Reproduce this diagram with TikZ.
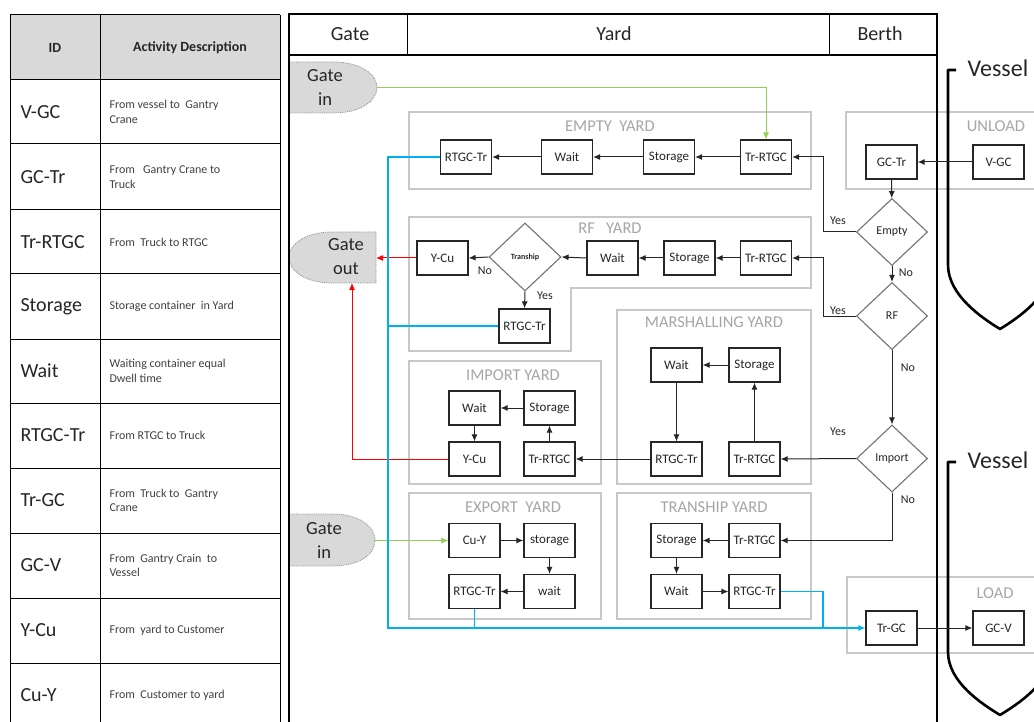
\documentclass[tikz,border=0pt]{standalone}
\usepackage{fontspec}
\setmainfont{Carlito}
\usetikzlibrary{arrows.meta,shapes.geometric}
\definecolor{gatein}{HTML}{92D050}
\definecolor{gateout}{HTML}{FF0000}
\definecolor{truck}{HTML}{00B0F0}
\definecolor{zone}{HTML}{C8C8C8}
\definecolor{zonetxt}{HTML}{A6A6A6}
\definecolor{gatefill}{HTML}{D9D9D9}
\definecolor{ink}{HTML}{262626}

\begin{document}
\begin{tikzpicture}[x=1pt,y=-1pt,
  act/.style={draw=ink, line width=1.2pt, fill=white, minimum width=51pt,
    minimum height=34pt, inner sep=0pt, font=\fontsize{13}{15}\selectfont, text=ink},
  decide/.style={diamond, draw=black!55, line width=1.1pt, fill=white,
    minimum width=71pt, minimum height=67pt, inner sep=0pt,
    font=\fontsize{12}{14}\selectfont, text=ink},
  zonebox/.style={draw=zone, line width=1.3pt},
  zonetitle/.style={text=zonetxt, font=\fontsize{16.5}{18}\selectfont},
  gateshape/.style={fill=gatefill, draw=black!45, densely dotted, line width=0.8pt},
  gatetext/.style={align=center, font=\fontsize{18.5}{24}\selectfont, text=ink},
  flow/.style={line width=1pt, draw=ink, -{Latex[length=7pt,width=6pt]}},
  truckline/.style={line width=1.2pt, draw=truck},
  lbl/.style={font=\fontsize{12}{14}\selectfont, text=ink},
  headtext/.style={font=\fontsize{20}{24}\selectfont, text=ink},
  idtext/.style={anchor=west, font=\fontsize{20}{24}\selectfont, text=ink},
  desctext/.style={anchor=west, align=left, font=\fontsize{12}{14.5}\selectfont, text=black!75},
  hull/.style={line width=2.6pt, line join=round}
]
\clip (0,0) rectangle (1034,722);
\fill[white] (0,0) rectangle (1034,722);

% ---------- activity table ----------
\fill[gatefill] (10,15) rectangle (280,80);
\foreach \yy in {15,80,144,210,274,339,403,468,533,598,663}
  \draw[line width=1pt] (10,\yy) -- (280,\yy);
\foreach \xx in {10,100,280}
  \draw[line width=1pt] (\xx,15) -- (\xx,730);
\node[font=\bfseries\fontsize{14}{16}\selectfont, text=ink] (thid) at (55,48) {ID};
\node[font=\bfseries\fontsize{14}{16}\selectfont, text=ink] (thdesc) at (190,48) {Activity Description};
\foreach \yy/\code/\desc [count=\k] in {
  112/V-GC/{From vessel to\ \ Gantry\\Crane},
  177/GC-Tr/{From\ \ \ Gantry Crane to\\Truck},
  242/Tr-RTGC/{From\ \ Truck to RTGC},
  306.5/Storage/{Storage container\ \ in Yard},
  371/Wait/{Waiting container equal\\Dwell time},
  435.5/RTGC-Tr/{From RTGC to Truck},
  500.5/Tr-GC/{From\ \ Truck to\ \ Gantry\\Crane},
  565.5/GC-V/{From\ \ Gantry Crain\ \ to\\Vessel},
  630.5/Y-Cu/{From\ \ yard to Customer},
  695/Cu-Y/{From\ \ Customer to yard}}
{
  \node[idtext] (id\k) at (17,\yy) {\code};
  \node[desctext] (desc\k) at (106,\yy) {\desc};
}

% ---------- zones ----------
\draw[zonebox] (409,112) rectangle (811,189);
\node[zonetitle] (tEmpty) at (610,126) {EMPTY\ \ YARD};
\draw[zonebox] (409,217) -- (811,217) -- (811,288) -- (571,288) -- (571,351) -- (409,351) -- cycle;
\node[zonetitle] (tRF) at (610,228) {RF\ \ \ YARD};
\draw[zonebox] (617,310) rectangle (811,484);
\node[zonetitle] (tMar) at (714,322) {MARSHALLING YARD};
\draw[zonebox] (409,361) rectangle (601,484);
\node[zonetitle] (tImp) at (513,375) {IMPORT YARD};
\draw[zonebox] (409,493) rectangle (601,619);
\node[zonetitle] (tExp) at (513,507) {EXPORT\ \ YARD};
\draw[zonebox] (617,493) rectangle (811,619);
\node[zonetitle] (tTra) at (714,507) {TRANSHIP YARD};
\draw[zonebox] (846,112) rectangle (1045,189);
\node[zonetitle] (tUnl) at (996,126) {UNLOAD};
\draw[zonebox] (847,577) rectangle (1045,653);
\node[zonetitle] (tLoad) at (995,593) {LOAD};

% ---------- gates ----------
\draw[gateshape] (289,62) -- (333,62) .. controls (362,62) and (377,75) .. (377,87.5)
  .. controls (377,100) and (362,113) .. (333,113) -- (289,113) -- cycle;
\node[gatetext] (gin1) at (325,87) {Gate\\in};
\coordinate (gin1tip) at (377,87.5);
\draw[gateshape] (376,232) -- (332,232) .. controls (304,232) and (289,245) .. (289,257.5)
  .. controls (289,270) and (304,283) .. (332,283) -- (376,283) -- cycle;
\node[gatetext] (gout) at (346,257) {Gate\\out};
\coordinate (goutE) at (376,258);
\coordinate (goutS) at (352,283);
\draw[gateshape] (289,514) -- (332,514) .. controls (360,514) and (375,527) .. (375,540.5)
  .. controls (375,554) and (360,566) .. (332,566) -- (289,566) -- cycle;
\node[gatetext] (gin2) at (324,540) {Gate\\in};
\coordinate (gin2tip) at (375,540.5);

% ---------- frame ----------
\draw[line width=2.6pt] (289,730) -- (289,14) -- (937,14) -- (937,730);
\draw[line width=2.6pt] (289,55) -- (937,55);
\draw[line width=1pt] (407,14) -- (407,55);
\draw[line width=1pt] (829,14) -- (829,55);
\node[headtext] (hGate) at (350,34) {Gate};
\node[headtext] (hYard) at (614,34) {Yard};
\node[headtext] (hBerth) at (880,34) {Berth};

% ---------- vessels ----------
\draw[hull] (956,70) -- (948,70) -- (948,265) .. controls (948,295) and (982,318) .. (1000,329)
  .. controls (1018,318) and (1052,295) .. (1052,265);
\node[font=\fontsize{24}{28}\selectfont, text=ink] (ves1) at (998,68) {Vessel};
\draw[hull] (956,462) -- (948,462) -- (948,652) .. controls (948,682) and (982,704) .. (1000,715)
  .. controls (1018,704) and (1052,682) .. (1052,652);
\node[font=\fontsize{24}{28}\selectfont, text=ink] (ves2) at (998,460) {Vessel};

% ---------- activities ----------
% unload / load
\node[act] (ugctr) at (891.5,162) {GC-Tr};
\node[act] (uvgc) at (998.5,162) {V-GC};
\node[act] (ltrgc) at (891.5,628) {Tr-GC};
\node[act] (lgcv) at (998.5,628) {GC-V};
% decisions
\node[decide] (dEmpty) at (892,232) {Empty};
\node[decide] (dRF) at (892,316) {RF};
\node[decide] (dImp) at (892,458.5) {Import};
% empty yard
\node[act] (eRt) at (466,157) {RTGC-Tr};
\node[act] (eWait) at (567,157) {Wait};
\node[act] (eSto) at (669,157) {Storage};
\node[act] (eTr) at (766,157) {Tr-RTGC};
% RF yard
\node[act] (rYcu) at (442.5,258) {Y-Cu};
\node[decide, minimum width=72pt, minimum height=68pt, font=\bfseries\fontsize{8}{9}\selectfont] (rTra) at (525,257) {Tranship};
\node[act] (rWait) at (612.5,258) {Wait};
\node[act] (rSto) at (689.5,258) {Storage};
\node[act] (rTr) at (766,258) {Tr-RTGC};
\node[act] (rRt) at (524.5,326) {RTGC-Tr};
% marshalling yard
\node[act] (mWait) at (676.5,365) {Wait};
\node[act] (mSto) at (754.5,365) {Storage};
\node[act] (mRt) at (676.5,459) {RTGC-Tr};
\node[act] (mTr) at (754.5,459) {Tr-RTGC};
% import yard
\node[act] (iWait) at (474.5,408) {Wait};
\node[act] (iSto) at (549.5,408) {Storage};
\node[act] (iYcu) at (474.5,459) {Y-Cu};
\node[act] (iTr) at (549.5,459) {Tr-RTGC};
% export yard
\node[act] (xCuy) at (474.5,540.5) {Cu-Y};
\node[act] (xSto) at (549.5,540.5) {storage};
\node[act] (xRt) at (474.5,591.5) {RTGC-Tr};
\node[act] (xWait) at (549.5,591.5) {wait};
% tranship yard
\node[act] (tSto) at (676.5,540.5) {Storage};
\node[act] (tTr) at (754.5,540.5) {Tr-RTGC};
\node[act] (tWait) at (676.5,591.5) {Wait};
\node[act] (tRt) at (754.5,591.5) {RTGC-Tr};

% ---------- flows ----------
\draw[flow] (uvgc) -- (ugctr);
\draw[flow] (ugctr) -- (dEmpty);
\draw[flow] (dEmpty) -- (dRF);
\draw[flow] (dRF) -- (dImp);
\draw[flow] (dEmpty.west) -- (823,232) |- (eTr.east);
\draw[flow] (dRF.west) -- (823,316) |- (rTr.east);
\draw[flow] (dImp.west) -- (mTr.east);
\draw[flow] (dImp.south) |- (tTr.east);
\node[lbl] (yes1) at (838,221) {Yes};
\node[lbl] (no1) at (906,273) {No};
\node[lbl] (yes2) at (838,311) {Yes};
\node[lbl] (no2) at (908,368) {No};
\node[lbl] (yes3) at (838,432) {Yes};
\node[lbl] (no3) at (908,500) {No};

\draw[flow] (eTr) -- (eSto);
\draw[flow] (eSto) -- (eWait);
\draw[flow] (eWait) -- (eRt);

\draw[flow] (rTr) -- (rSto);
\draw[flow] (rSto) -- (rWait);
\draw[flow] (rWait.west) -- (rTra.east);
\draw[flow] (rTra.west) -- (rYcu.east);
\draw[flow] (rTra.south) -- (rRt.north);
\node[lbl] (noT) at (485,271) {No};
\node[lbl] (yesT) at (545,296) {Yes};

\draw[flow] (mTr) -- (mSto);
\draw[flow] (mSto) -- (mWait);
\draw[flow] (mWait) -- (mRt);
\draw[flow] (mRt) -- (iTr);

\draw[flow] (iTr) -- (iSto);
\draw[flow] (iSto) -- (iWait);
\draw[flow] (iWait) -- (iYcu);

\draw[flow] (xCuy) -- (xSto);
\draw[flow] (xSto) -- (xWait);
\draw[flow] (xWait) -- (xRt);

\draw[flow] (tTr) -- (tSto);
\draw[flow] (tSto) -- (tWait);
\draw[flow] (tWait) -- (tRt);

\draw[flow] (ltrgc) -- (lgcv);

% gate in / gate out
\draw[flow, draw=gatein] (gin1tip) -| (eTr.north);
\draw[flow, draw=gatein] (gin2tip) -- (xCuy.west);
\draw[flow, draw=gateout] (rYcu.west) -- (goutE);
\draw[flow, draw=gateout] (iYcu.west) -| (goutS);

% trucks towards loading
\draw[flow, truckline] (eRt.west) -- (388,157) |- (ltrgc.west);
\draw[truckline] (rRt.west) -- (388,326);
\draw[truckline] (xRt.south) -- (474.5,628);
\draw[truckline] (tRt.east) -| (823,628);
\end{tikzpicture}
\end{document}
